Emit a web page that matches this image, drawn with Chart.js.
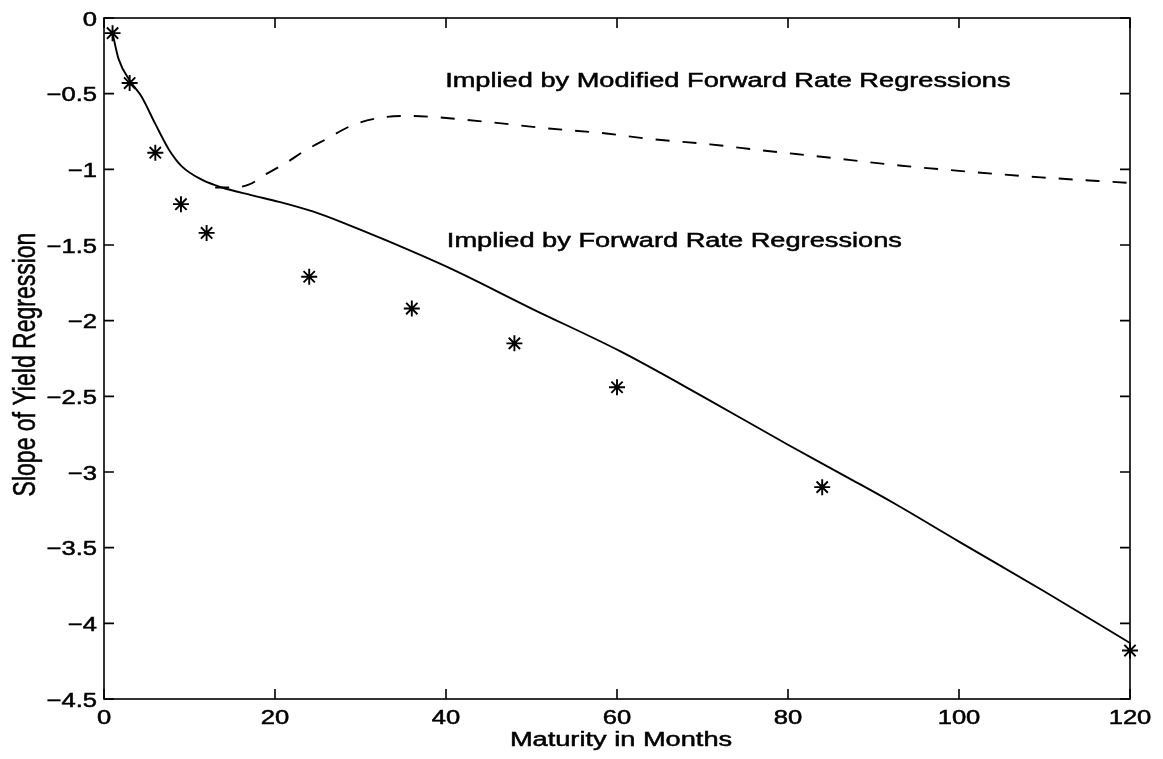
<!DOCTYPE html>
<html lang="en">
  <head>
    <meta charset="UTF-8" />
    <title>Slope of Yield Regression</title>
    <script src="https://cdn.jsdelivr.net/npm/chart.js"></script>
    <style>
      body {
        margin: 0;
        background-color: #ffffff;
      }
    </style>
  </head>
  <body>
    <canvas id="slopeChart" width="1163" height="759"></canvas>

    <script>
      // Estimated slopes (stars)
      const maturities = [1, 3, 6, 9, 12, 24, 36, 48, 60, 84, 120];
      const yieldSlopes = [-0.10, -0.43, -0.89, -1.23, -1.42, -1.71, -1.92, -2.15, -2.44, -3.10, -4.18];

      // Implied by forward rate regressions (solid line)
      const fwdMaturity = [1, 1.7, 3.1, 4.4, 6, 7.6, 9.1, 11.5, 13.8, 17.2, 20.5, 24.5, 28.5, 32.6, 40.5, 50, 60.3, 70, 80, 87.1, 92.5, 100, 110, 120];
      const fwdSlope = [-0.10, -0.27, -0.42, -0.52, -0.70, -0.87, -0.98, -1.07, -1.12, -1.17, -1.215, -1.28, -1.365, -1.46, -1.655, -1.92, -2.20, -2.50, -2.82, -3.04, -3.21, -3.46, -3.79, -4.13];

      // Implied by modified forward rate regressions (dashed line)
      const modMaturity = [13, 15, 17, 19, 21.5, 23.4, 26, 29, 32.2, 35.7, 38.7, 45.4, 52, 58.2, 64, 70.9, 77, 83.9, 93.3, 100, 109.6, 120];
      const modSlope = [-1.12, -1.12, -1.10, -1.03, -0.95, -0.88, -0.80, -0.71, -0.66, -0.647, -0.655, -0.69, -0.73, -0.76, -0.80, -0.835, -0.875, -0.917, -0.976, -1.01, -1.053, -1.09];

      const xTicks = [0, 20, 40, 60, 80, 100, 120];
      const yTicks = [0, -0.5, -1, -1.5, -2, -2.5, -3, -3.5, -4, -4.5];

      const xTitle = "Maturity in Months";
      const yTitle = "Slope of Yield Regression";
      const notes = [
        { text: "Implied by Modified Forward Rate Regressions", x: 39.9, y: -0.42 },
        { text: "Implied by Forward Rate Regressions", x: 40.1, y: -1.48 },
      ];

      const FONT = '"Liberation Sans", Arial, Helvetica, sans-serif';
      const STRETCH = 1.33; // the scanned figure is stretched sideways

      function toPoints(xs, ys) {
        return xs.map((v, i) => ({ x: v, y: ys[i] }));
      }

      function fmt(v) {
        return v < 0 ? "\u2212" + String(-v) : String(v);
      }

      function wideText(ctx, text, px, py, sx, align) {
        ctx.save();
        ctx.translate(px, py);
        ctx.scale(sx, 1);
        ctx.textAlign = align;
        ctx.textBaseline = "middle";
        ctx.lineWidth = 0.5;
        ctx.fillText(text, 0, 0);
        ctx.strokeText(text, 0, 0);
        ctx.restore();
      }

      // box, inward ticks, labels and titles
      const framePlugin = {
        id: "frame",
        afterDraw(chart) {
          const { ctx, chartArea: a } = chart;
          const x = chart.scales.x;
          const y = chart.scales.y;
          const tl = 10;
          ctx.save();
          ctx.strokeStyle = "#000";
          ctx.fillStyle = "#000";
          ctx.lineWidth = 1.6;
          ctx.strokeRect(a.left, a.top, a.right - a.left, a.bottom - a.top);

          ctx.beginPath();
          xTicks.forEach((t) => {
            const px = x.getPixelForValue(t);
            ctx.moveTo(px, a.bottom);
            ctx.lineTo(px, a.bottom - tl);
            ctx.moveTo(px, a.top);
            ctx.lineTo(px, a.top + tl);
          });
          yTicks.forEach((t) => {
            const py = y.getPixelForValue(t);
            ctx.moveTo(a.left, py);
            ctx.lineTo(a.left + tl, py);
            ctx.moveTo(a.right, py);
            ctx.lineTo(a.right - tl, py);
          });
          ctx.stroke();

          ctx.font = "20px " + FONT;
          xTicks.forEach((t) => {
            wideText(ctx, fmt(t), x.getPixelForValue(t), a.bottom + 19, 1.28, "center");
          });
          yTicks.forEach((t) => {
            wideText(ctx, fmt(t), a.left - 7, y.getPixelForValue(t) + 2, 1.28, "right");
          });

          wideText(ctx, xTitle, (a.left + a.right) / 2 + 4, a.bottom + 41, 1.36, "center");

          notes.forEach((n) => {
            wideText(ctx, n.text, x.getPixelForValue(n.x), y.getPixelForValue(n.y), 1.36, "left");
          });

          // rotated y title
          ctx.save();
          ctx.translate(27, (a.top + a.bottom) / 2 + 6);
          ctx.rotate(-Math.PI / 2);
          ctx.scale(1, STRETCH);
          ctx.font = "23px " + FONT;
          ctx.textAlign = "center";
          ctx.textBaseline = "middle";
          ctx.lineWidth = 0.4;
          ctx.fillText(yTitle, 0, 0);
          ctx.strokeText(yTitle, 0, 0);
          ctx.restore();

          ctx.restore();
        },
      };

      const ctx = document.getElementById("slopeChart").getContext("2d");

      new Chart(ctx, {
        type: "scatter",
        data: {
          datasets: [
            {
              label: "Implied by Forward Rate Regressions",
              data: toPoints(fwdMaturity, fwdSlope),
              showLine: true,
              borderColor: "#000",
              borderWidth: 1.9,
              pointRadius: 0,
              cubicInterpolationMode: "monotone",
              clip: false,
            },
            {
              label: "Implied by Modified Forward Rate Regressions",
              data: toPoints(modMaturity, modSlope),
              showLine: true,
              borderColor: "#000",
              borderWidth: 1.9,
              borderDash: [14, 13],
              pointRadius: 0,
              cubicInterpolationMode: "monotone",
              clip: false,
            },
            {
              label: "Yield regressions",
              data: toPoints(maturities, yieldSlopes),
              showLine: false,
              pointStyle: "star",
              pointRadius: 8,
              borderColor: "#000",
              borderWidth: 1.9,
              clip: false,
            },
          ],
        },
        options: {
          responsive: false,
          animation: false,
          layout: {
            padding: { left: 104, right: 33, top: 18, bottom: 60 },
          },
          plugins: {
            legend: { display: false },
            tooltip: { enabled: false },
          },
          scales: {
            x: { type: "linear", min: 0, max: 120, display: false },
            y: { type: "linear", min: -4.5, max: 0, display: false },
          },
        },
        plugins: [framePlugin],
      });
    </script>
  </body>
</html>
